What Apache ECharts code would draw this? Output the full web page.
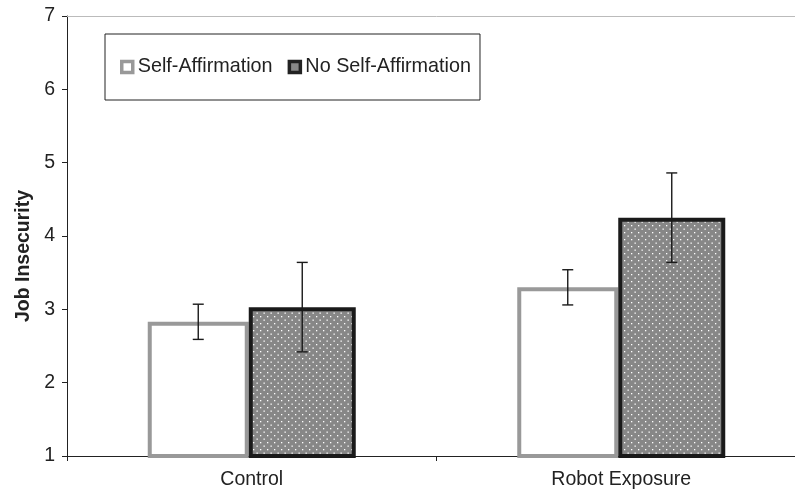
<!DOCTYPE html>
<html><head><meta charset="utf-8">
<script src="https://cdn.jsdelivr.net/npm/echarts@6/dist/echarts.min.js"></script>
<style>html,body{margin:0;padding:0;background:#fff;overflow:hidden}#c{width:806px;height:493px}</style>
</head><body><div id="c"></div>
<script>
const categories = ['Control', 'Robot Exposure'];
const seriesNames = ['Self-Affirmation', 'No Self-Affirmation'];
const selfAffirmation = [2.83, 3.30];
const noSelfAffirmation = [3.03, 4.25];
const selfAffirmationErr = [0.24, 0.24];
const noSelfAffirmationErr = [0.61, 0.61];
const yTicks = [1, 2, 3, 4, 5, 6, 7];

const FONT = '"Liberation Sans", Arial, sans-serif';
const W_SA = 101, W_NO = 107;

// dotted pattern
const pc = document.createElement('canvas');
pc.width = 7; pc.height = 7;
const pctx = pc.getContext('2d');
pctx.fillStyle = '#878787'; pctx.fillRect(0, 0, 7, 7);
pctx.fillStyle = '#ffffff';
pctx.fillRect(1, 1, 1.3, 1.3);
pctx.fillRect(4.5, 4.5, 1.3, 1.3);

function errSeries(vals, errs, which) {
  return {
    type: 'custom',
    z: 10,
    data: vals.map((v, i) => [i, v, errs[i]]),
    renderItem: function (params, api) {
      const c = api.value(0), v = api.value(1), e = api.value(2);
      const pHi = api.coord([c, v + e]);
      const pLo = api.coord([c, v - e]);
      const start = pHi[0] - (W_SA + W_NO) / 2;
      const x = which === 0 ? start + W_SA / 2 : start + W_SA + W_NO / 2;
      const hw = 5.5;
      const st = { stroke: '#1a1a1a', lineWidth: 1.4 };
      return { type: 'group', children: [
        { type: 'line', shape: { x1: x, y1: pHi[1], x2: x, y2: pLo[1] }, style: st },
        { type: 'line', shape: { x1: x - hw, y1: pHi[1], x2: x + hw, y2: pHi[1] }, style: st },
        { type: 'line', shape: { x1: x - hw, y1: pLo[1], x2: x + hw, y2: pLo[1] }, style: st }
      ]};
    },
    silent: true
  };
}

const chart = echarts.init(document.getElementById('c'), null, { renderer: 'canvas' });
chart.setOption({
  animation: false,
  textStyle: { fontFamily: FONT },
  grid: { left: 67, right: 0, top: 16, bottom: 37, containLabel: false },
  legend: {
    left: 105, top: 34,
    orient: 'horizontal',
    padding: [23, 9, 23, 15],
    borderColor: '#222', borderWidth: 1,
    itemWidth: 11, itemHeight: 11, itemGap: 15,
    textStyle: { fontSize: 19.8, color: '#222', fontFamily: FONT },
    data: [
      { name: seriesNames[0], icon: 'rect', itemStyle: { color: '#fff', borderColor: '#999', borderWidth: 3.5 } },
      { name: seriesNames[1], icon: 'rect', itemStyle: { color: '#888', borderColor: '#222', borderWidth: 3.5 } }
    ]
  },
  xAxis: [{
    type: 'category', data: categories, boundaryGap: true,
    axisLine: { lineStyle: { color: '#222', width: 1 } },
    axisTick: { show: true, length: 5, lineStyle: { color: '#222' } },
    axisLabel: { fontSize: 19.5, color: '#222', margin: 14, fontFamily: FONT }
  }, {
    type: 'category', data: categories, position: 'top',
    axisLine: { lineStyle: { color: '#bbb', width: 1 } },
    axisTick: { show: false }, axisLabel: { show: false }
  }],
  yAxis: {
    type: 'value', min: yTicks[0], max: yTicks[yTicks.length - 1], interval: 1,
    name: 'Job Insecurity', nameLocation: 'middle', nameGap: 31, nameRotate: 90,
    nameTextStyle: { fontSize: 19.5, fontWeight: 'bold', color: '#222', fontFamily: FONT, padding: [0, 40, 0, 0] },
    axisLine: { show: true, lineStyle: { color: '#222', width: 1 } },
    axisTick: { show: true, length: 5, lineStyle: { color: '#222' } },
    axisLabel: { fontSize: 19.5, color: '#222', margin: 12, fontFamily: FONT },
    splitLine: { show: false }
  },
  series: [
    {
      name: seriesNames[0], type: 'bar', data: selfAffirmation,
      barGap: '0%', barWidth: W_SA,
      itemStyle: { color: '#fff', borderColor: '#999', borderWidth: 4 }
    },
    {
      name: seriesNames[1], type: 'bar', data: noSelfAffirmation,
      barGap: '0%', barWidth: W_NO,
      itemStyle: { color: { image: pc, repeat: 'repeat' }, borderColor: '#1a1a1a', borderWidth: 4 }
    },
    errSeries(selfAffirmation, selfAffirmationErr, 0),
    errSeries(noSelfAffirmation, noSelfAffirmationErr, 1)
  ]
});
</script></body></html>
